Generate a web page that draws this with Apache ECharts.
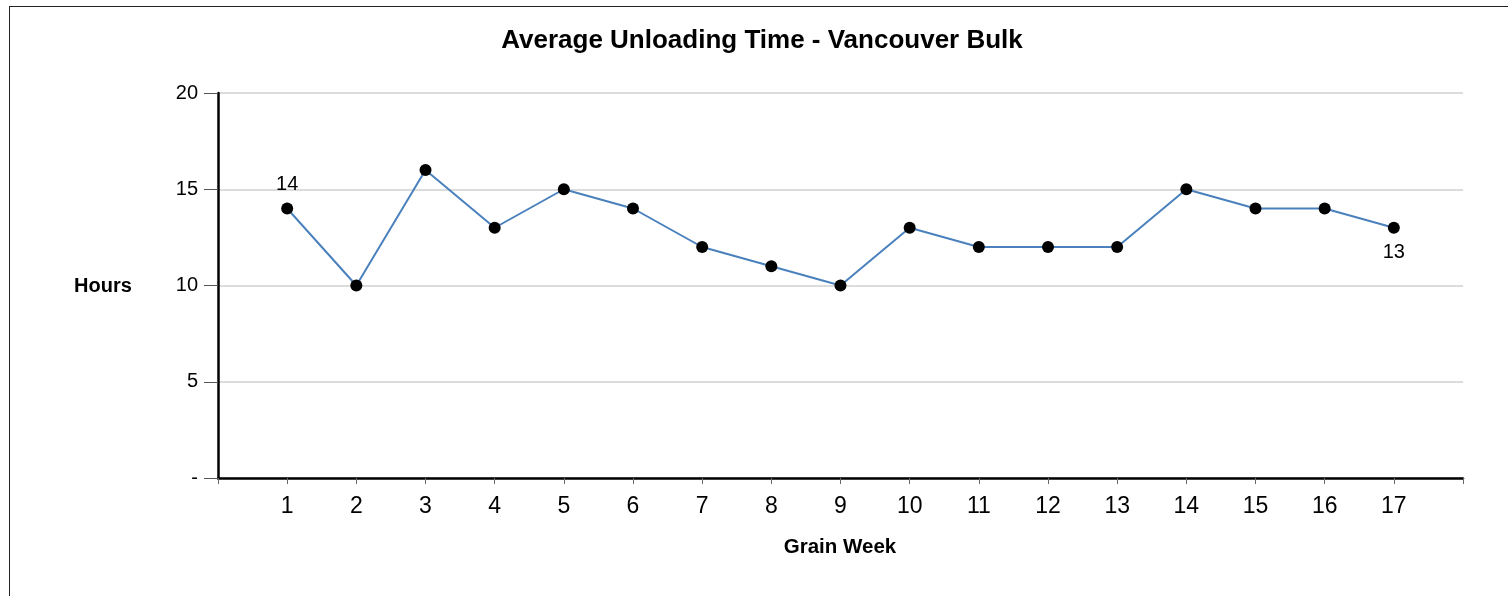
<!DOCTYPE html>
<html><head><meta charset="utf-8">
<script src="https://cdn.jsdelivr.net/npm/echarts@6/dist/echarts.min.js"></script>
<style>
html,body{margin:0;padding:0;background:#fff;overflow:hidden}
#frame{position:absolute;left:9px;top:6px;width:1600px;height:700px;border:1px solid #222;box-sizing:border-box}
#c{position:absolute;left:0;top:0;width:1508px;height:596px}
</style></head>
<body>
<div id="frame"></div>
<div id="c"></div>
<script>
const weeks = [1,2,3,4,5,6,7,8,9,10,11,12,13,14,15,16,17];
const hours = [14,10,16,13,15,14,12,11,10,13,12,12,12,15,14,14,13];
const yTicks = [0,5,10,15,20];
const chartTitle = 'Average Unloading Time - Vancouver Bulk';
const yName = 'Hours';
const xName = 'Grain Week';

const FF = 'Liberation Sans, Arial, sans-serif';
const data = weeks.map((w,i)=>{
  const p = {value:[w,hours[i]]};
  if(i===0) p.label = {show:true, position:'top', distance:8};
  if(i===weeks.length-1) p.label = {show:true, position:'bottom', distance:9};
  return p;
});

const chart = echarts.init(document.getElementById('c'));
chart.setOption({
  animation:false,
  backgroundColor:'transparent',
  title:[
    {text:chartTitle, left:757, top:23, padding:5, textAlign:'center',
     textStyle:{fontFamily:FF, fontSize:26, fontWeight:'bold', color:'#000'}},
    {text:yName, left:69, top:271,
     textStyle:{fontFamily:FF, fontSize:20, fontWeight:'bold', color:'#000'}},
    {text:xName, left:835, top:532, textAlign:'center',
     textStyle:{fontFamily:FF, fontSize:20.5, fontWeight:'bold', color:'#000'}}
  ],
  grid:{left:218, right:45, top:93, bottom:118, containLabel:false},
  xAxis:{
    type:'value', min:0, max:18, interval:1,
    axisLine:{show:true, onZero:false, lineStyle:{color:'#000', width:2.5}},
    axisTick:{show:true, length:6, lineStyle:{color:'#666', width:1}},
    splitLine:{show:false},
    axisLabel:{margin:17, fontFamily:FF, fontSize:23, color:'#000',
      formatter:v=> (weeks.indexOf(v)>=0 ? String(v) : '')}
  },
  yAxis:{
    type:'value', min:yTicks[0], max:yTicks[yTicks.length-1], interval:5,
    axisLine:{show:true, lineStyle:{color:'#000', width:2.5}},
    axisTick:{show:true, length:14, lineStyle:{color:'#555', width:1}},
    splitLine:{show:true, lineStyle:{color:'#dcdcdc', width:2}},
    axisLabel:{margin:20, fontFamily:FF, fontSize:20, color:'#000',
      formatter:v=> v===0 ? '-' : String(v)}
  },
  series:[{
    type:'line', data:data,
    symbol:'circle', symbolSize:12,
    itemStyle:{color:'#000'},
    lineStyle:{color:'#4a81bd', width:2},
    label:{show:false, fontFamily:FF, fontSize:20, color:'#000'},
    z:3
  }]
});
</script>
</body></html>
